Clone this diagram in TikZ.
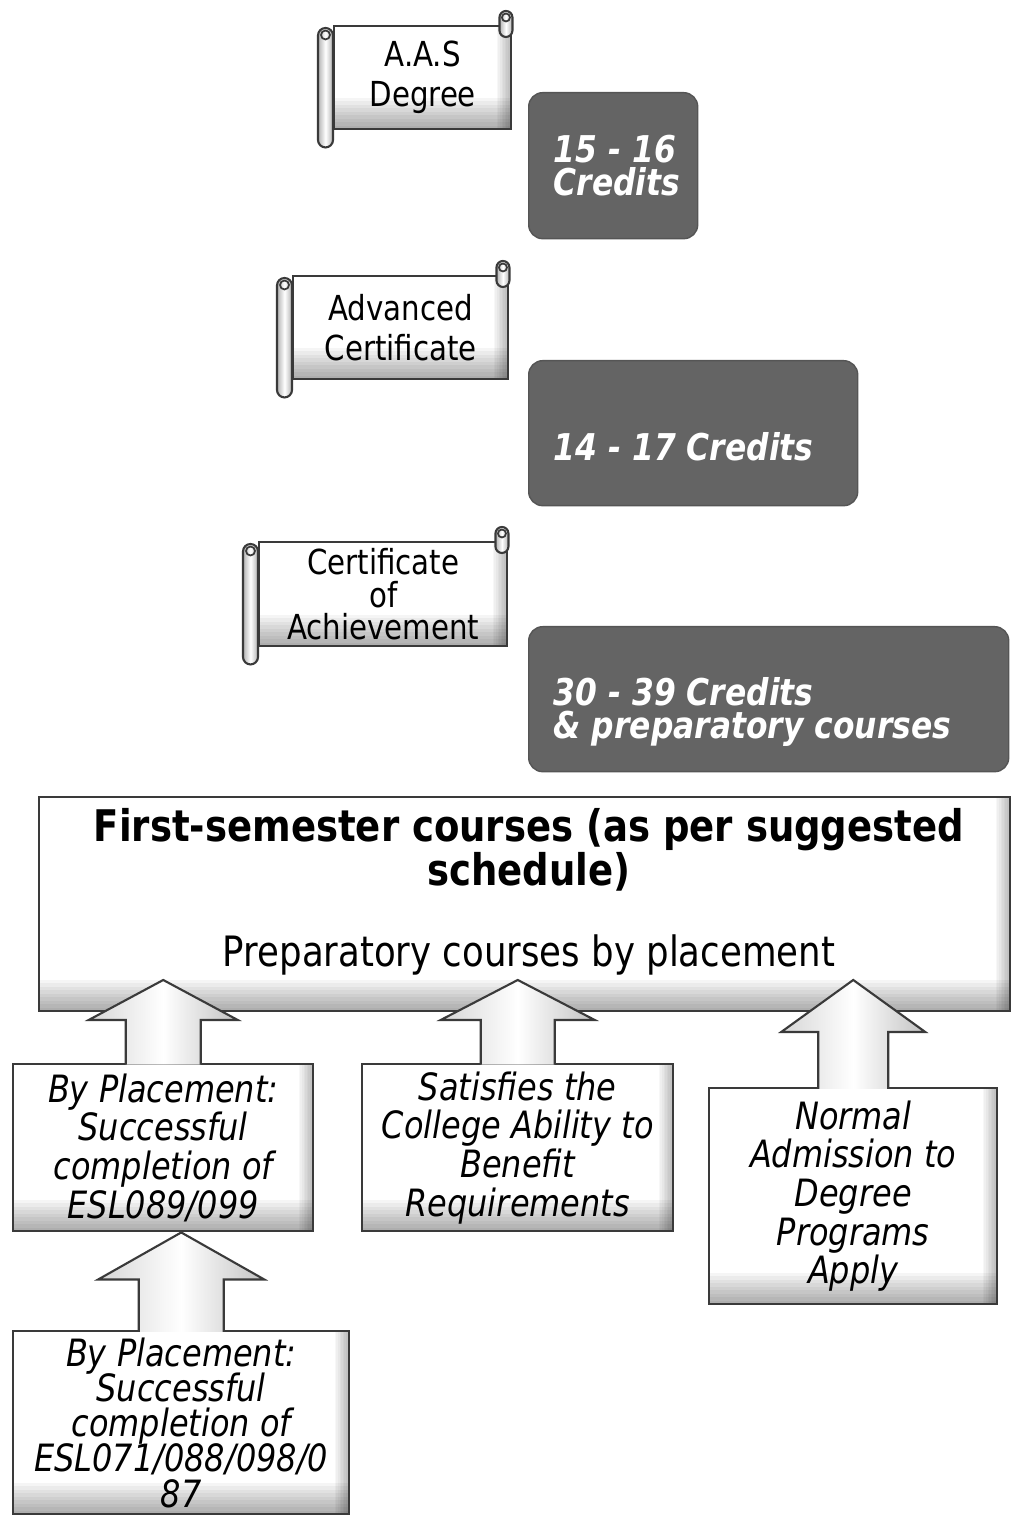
\documentclass[tikz,border=0pt]{standalone}
\usepackage{fontspec}
\setmainfont{DejaVu Sans}[FakeStretch=0.85]
\usetikzlibrary{positioning,calc}
\definecolor{credgray}{HTML}{646464}
\definecolor{edgegray}{HTML}{3A3A3A}
\setlength{\lineskiplimit}{-6pt}

\tikzset{
  bevelbox/.style={draw=edgegray, line width=0.7pt, fill=white, inner sep=0pt,
    path picture={
      \foreach \k in {1,...,9}{
        \fill[black, opacity=0.04] (path picture bounding box.south west) rectangle ([yshift=\k*0.035cm]path picture bounding box.south east);
        \fill[black, opacity=0.03] ([xshift=-\k*0.016cm]path picture bounding box.south east) rectangle (path picture bounding box.north east);
      }
    }},
  scrollbox/.style={bevelbox, align=center, font=\fontsize{9.8}{11.4}\selectfont},
  rollshade/.style={draw=edgegray, line width=0.6pt, left color=black!30, right color=black!30, middle color=white},
  rollline/.style={draw=edgegray, line width=0.5pt},
  creditbox/.style={fill=credgray, draw=credgray!85!black, line width=0.4pt, rounded corners=0.14cm},
  credtext/.style={text=white, align=left, anchor=west, inner sep=0pt, font=\fontsize{10.5}{9.4}\selectfont\bfseries\itshape},
  headtext/.style={align=center, inner sep=0pt, font=\fontsize{12.4}{12.5}\selectfont\bfseries},
  subtext/.style={inner sep=0pt, font=\fontsize{11.9}{13}\selectfont},
  placebox/.style={bevelbox, align=center, font=\fontsize{10.7}{11}\selectfont\itshape},
  arrowfill/.style={left color=black!16, right color=black!24, middle color=white},
  arrowline/.style={draw=edgegray, line width=0.6pt, line join=miter}
}

% rolled ends of a diploma scroll
\newcommand{\scrollrolls}[1]{%
  \shadedraw[rollshade, rounded corners=0.065cm] ([xshift=-0.13cm,yshift=-0.12cm]#1.north east) rectangle ([yshift=0.14cm]#1.north east);
  \draw[rollline] ([xshift=-0.065cm,yshift=0.075cm]#1.north east) circle[radius=0.04cm];
  \shadedraw[rollshade, rounded corners=0.075cm] ([xshift=-0.15cm,yshift=-0.03cm]#1.north west) rectangle ([yshift=-0.17cm]#1.south west);
  \draw[rollline] ([xshift=-0.075cm,yshift=-0.1cm]#1.north west) circle[radius=0.045cm];
}

% hollow upward block arrow: start, tip, shaft half width, head half width, head length
\newcommand{\blockup}[5]{%
  \shade[arrowfill] let \p1=([yshift=-0.5pt]#1), \p2=(#2) in
    (\x1-#3,\y1) -- (\x1-#3,\y2-#5) -- (\x1-#4,\y2-#5) -- (\x1,\y2)
    -- (\x1+#4,\y2-#5) -- (\x1+#3,\y2-#5) -- (\x1+#3,\y1) -- cycle;
  \draw[arrowline] let \p1=([yshift=-0.5pt]#1), \p2=(#2) in
    (\x1-#3,\y1) -- (\x1-#3,\y2-#5) -- (\x1-#4,\y2-#5) -- (\x1,\y2)
    -- (\x1+#4,\y2-#5) -- (\x1+#3,\y2-#5) -- (\x1+#3,\y1);
}

\begin{document}
\begin{tikzpicture}
\useasboundingbox (0,0) rectangle (10.11,15.16);

% awards
\node[scrollbox, minimum width=1.77cm, minimum height=1.03cm, anchor=north west] (aas) at (3.33,14.91) {A.A.S\\Degree};
\scrollrolls{aas}
\node[scrollbox, minimum width=2.15cm, minimum height=1.03cm, anchor=north west] (advcert) at (2.92,12.41) {Advanced\\Certificate};
\scrollrolls{advcert}
\node[scrollbox, font=\fontsize{9.8}{9.2}\selectfont, minimum width=2.48cm, minimum height=1.04cm, anchor=north west] (certach) at (2.58,9.75) {Certificate\\of\\Achievement};
\scrollrolls{certach}

% credits
\node[creditbox, minimum width=1.69cm, minimum height=1.46cm, anchor=north west] (cr1) at (5.28,14.24) {};
\node[credtext] (cr1txt) at ($(cr1.west)+(0.25,0)$) {15 - 16\\Credits};
\node[creditbox, minimum width=3.29cm, minimum height=1.45cm, anchor=north west] (cr2) at (5.28,11.56) {};
\node[credtext] (cr2txt) at ($(cr2.west)+(0.25,-0.14)$) {14 - 17 Credits};
\node[creditbox, minimum width=4.80cm, minimum height=1.45cm, anchor=north west] (cr3) at (5.28,8.90) {};
\node[credtext] (cr3txt) at ($(cr3.west)+(0.25,-0.13)$) {30 - 39 Credits\\\& preparatory courses};

% first semester
\node[bevelbox, minimum width=9.71cm, minimum height=2.14cm, anchor=north west] (first) at (0.38,7.20) {};
\node[headtext] (firsthead) at (5.29,6.66) {First-semester courses (as per suggested\\schedule)};
\node[subtext] (firstsub) at (5.29,5.61) {Preparatory courses by placement};

% ways in
\node[placebox, minimum width=3.00cm, minimum height=1.67cm, anchor=north west] (esl89) at (0.12,4.53) {By Placement:\\Successful\\completion of\\ESL089/099};
\node[placebox, minimum width=3.11cm, minimum height=1.67cm, anchor=north west] (cab) at (3.61,4.53) {Satisfies the\\College Ability to\\Benefit\\Requirements};
\node[placebox, minimum width=2.88cm, minimum height=2.16cm, anchor=north west] (normal) at (7.08,4.29) {Normal\\Admission to\\Degree\\Programs\\Apply};
\node[placebox, font=\fontsize{10.7}{10}\selectfont\itshape, minimum width=3.36cm, minimum height=1.83cm, anchor=north west] (esl71) at (0.12,1.86) {By Placement:\\Successful\\completion of\\ESL071/088/098/0\\87};

\coordinate (tip89) at ($(esl89.north)+(0,0.83)$);
\coordinate (tipcab) at ($(cab.north)+(0,0.83)$);
\coordinate (tipnormal) at ($(normal.north)+(0,1.07)$);
\coordinate (tip71) at (esl71.north |- esl89.south);

\blockup{esl89.north}{tip89}{0.375cm}{0.745cm}{0.40cm}
\blockup{cab.north}{tipcab}{0.37cm}{0.77cm}{0.40cm}
\blockup{normal.north}{tipnormal}{0.35cm}{0.72cm}{0.52cm}
\blockup{esl71.north}{tip71}{0.425cm}{0.83cm}{0.47cm}
\end{tikzpicture}
\end{document}
